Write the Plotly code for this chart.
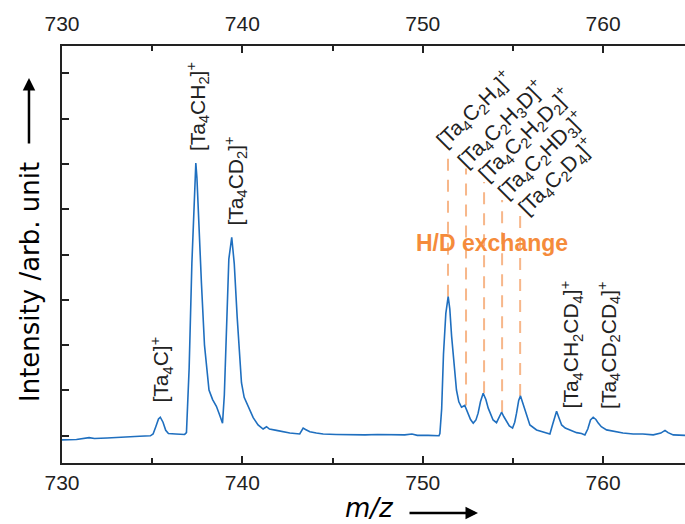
import plotly.graph_objects as go

# ---------------- data ----------------
mz = [730.0, 730.8, 731.5, 731.8, 732.5, 733.2, 733.8, 734.3, 734.9,
      735.05, 735.2, 735.35, 735.45, 735.6, 735.75, 735.9, 736.3, 736.8, 736.9,
      737.05, 737.2, 737.35, 737.42, 737.48, 737.58, 737.73, 737.9, 738.05, 738.15,
      738.35, 738.56, 738.75, 738.9, 739.0, 739.12, 739.25, 739.41, 739.55, 739.71,
      739.85, 739.95, 740.1, 740.32, 740.6, 740.87, 741.15, 741.34, 741.5, 741.89,
      742.2, 742.63, 743.18, 743.37, 743.5, 743.74, 744.1, 744.48, 745.2, 746.0,
      746.8, 747.5, 748.2, 749.0, 749.4, 749.7, 750.3, 750.9,
      750.95, 751.05, 751.15, 751.28, 751.41, 751.5, 751.6, 751.69, 751.87, 752.0,
      752.15, 752.33, 752.52, 752.65, 752.8, 752.95, 753.07, 753.2, 753.35, 753.5,
      753.63, 753.9, 754.09, 754.25, 754.37, 754.5, 754.65, 754.8, 754.98, 755.1,
      755.2, 755.32, 755.42, 755.52, 755.66, 755.8, 755.94, 756.31, 756.6, 756.87,
      757.05, 757.2, 757.42, 757.55, 757.7, 757.9, 758.16, 758.53, 758.8, 758.99,
      759.15, 759.3, 759.45, 759.6, 759.73, 759.9, 760.19, 760.56, 761.1, 761.67,
      762.2, 762.78, 763.2, 763.43, 763.6, 763.89, 764.54]
intensity = [-0.09, -0.08, -0.04, -0.06, -0.05, -0.03, -0.02, -0.01, 0.0,
             0.04, 0.2, 0.37, 0.41, 0.3, 0.12, 0.05, 0.04, 0.03, 0.07,
             1.5, 3.8, 5.6, 6.02, 5.7, 4.7, 3.37, 2.0, 1.35, 1.01,
             0.8, 0.65, 0.45, 0.28, 0.9, 2.63, 3.9, 4.38, 3.8, 2.63,
             1.6, 1.17, 0.85, 0.65, 0.4, 0.24, 0.15, 0.2, 0.15, 0.12,
             0.09, 0.06, 0.04, 0.17, 0.14, 0.09, 0.06, 0.04, 0.03, 0.02,
             0.02, 0.03, 0.02, 0.02, 0.04, 0.01, 0.01, 0.0,
             0.05, 0.6, 1.8, 2.7, 3.07, 2.8, 2.2, 1.75, 1.01, 0.75,
             0.63, 0.67, 0.5, 0.36, 0.28, 0.35, 0.5, 0.75, 0.94, 0.8,
             0.61, 0.35, 0.29, 0.42, 0.52, 0.42, 0.31, 0.22, 0.17, 0.3,
             0.5, 0.78, 0.88, 0.76, 0.57, 0.38, 0.24, 0.13, 0.1, 0.07,
             0.04, 0.25, 0.54, 0.4, 0.24, 0.17, 0.13, 0.07, 0.05, 0.02,
             0.15, 0.35, 0.41, 0.36, 0.28, 0.2, 0.13, 0.1, 0.06, 0.04,
             0.04, 0.02, 0.06, 0.12, 0.07, 0.02, 0.01]

x_ticks = [730, 740, 750, 760]
y_ticks = [0, 1, 2, 3, 4, 5, 6, 7, 8]

# H/D exchange peaks (m/z and peak height) and their labels
hd_mz = [751.4, 752.4, 753.4, 754.4, 755.4]
hd_peak = [3.07, 0.67, 0.94, 0.52, 0.88]
hd_labels = ["[Ta<sub>4</sub>C<sub>2</sub>H<sub>4</sub>]<sup>+</sup>",
             "[Ta<sub>4</sub>C<sub>2</sub>H<sub>3</sub>D]<sup>+</sup>",
             "[Ta<sub>4</sub>C<sub>2</sub>H<sub>2</sub>D<sub>2</sub>]<sup>+</sup>",
             "[Ta<sub>4</sub>C<sub>2</sub>HD<sub>3</sub>]<sup>+</sup>",
             "[Ta<sub>4</sub>C<sub>2</sub>D<sub>4</sub>]<sup>+</sup>"]

# vertical peak labels
v_labels = ["[Ta<sub>4</sub>C]<sup>+</sup>",
            "[Ta<sub>4</sub>CH<sub>2</sub>]<sup>+</sup>",
            "[Ta<sub>4</sub>CD<sub>2</sub>]<sup>+</sup>",
            "[Ta<sub>4</sub>CH<sub>2</sub>CD<sub>4</sub>]<sup>+</sup>",
            "[Ta<sub>4</sub>CD<sub>2</sub>CD<sub>4</sub>]<sup>+</sup>"]

# ---------------- figure ----------------
X_RANGE = [730, 764.54]
Y_RANGE = [-0.6, 8.6]
BLUE = "#1f6fbf"
ORANGE = "#f58b3b"
DASH_ORANGE = "#f7b78a"
AX = "#222222"
LABEL_FONT = dict(family="Liberation Sans, Arial", size=21, color=AX)

fig = go.Figure()
fig.add_trace(go.Scatter(x=mz, y=intensity, mode="lines",
                         line=dict(color=BLUE, width=1.6), showlegend=False,
                         hoverinfo="skip"))
# invisible trace on top axis
fig.add_trace(go.Scatter(x=[X_RANGE[0]], y=[0], xaxis="x2", mode="markers",
                         marker=dict(opacity=0), showlegend=False, hoverinfo="skip"))

# dashed H/D lines
line_tops = [6.15, 5.90, 5.60, 5.20, 4.87]
for xm, yp, yt in zip(hd_mz, hd_peak, line_tops):
    fig.add_shape(type="line", xref="x", yref="y", x0=xm, x1=xm, y0=yp, y1=yt,
                  line=dict(color=DASH_ORANGE, width=2, dash="12px,9px"), layer="below")

annotations = []
# vertical labels: (x, bottom y)
v_pos = [(735.52, 0.68), (737.55, 6.23), (739.63, 4.60), (758.25, 0.55), (760.33, 0.55)]
for txt, (xx, yy) in zip(v_labels, v_pos):
    annotations.append(dict(x=xx, y=yy, xref="x", yref="y", text=txt, showarrow=False,
                            textangle=-90, xanchor="center", yanchor="bottom",
                            font=LABEL_FONT))
# diagonal labels: bbox left-bottom
d_pos = [(750.23, 6.15), (751.40, 5.71), (752.56, 5.42), (753.62, 5.03), (754.79, 4.67)]
for txt, (xx, yy) in zip(hd_labels, d_pos):
    annotations.append(dict(x=xx, y=yy, xref="x", yref="y", text=txt, showarrow=False,
                            textangle=-45, xanchor="left", yanchor="bottom",
                            font=LABEL_FONT))
# H/D exchange
annotations.append(dict(x=753.83, y=4.25, xref="x", yref="y", text="<b>H/D exchange</b>",
                        showarrow=False, xanchor="center", yanchor="middle",
                        font=dict(family="Liberation Sans, Arial", size=23, color=ORANGE)))
# axis titles
annotations.append(dict(x=-0.0514, y=0.434, xref="paper", yref="paper",
                        text="Intensity /arb. unit", showarrow=False, textangle=-90,
                        xanchor="center", yanchor="middle",
                        font=dict(family="DejaVu Sans", size=26, color="black")))
annotations.append(dict(x=-0.053, y=0.923, xref="paper", yref="paper", text="",
                        showarrow=True, ax=0, ay=67, arrowhead=2, arrowsize=1,
                        arrowwidth=2.5, arrowcolor="black"))
annotations.append(dict(x=0.494, y=-0.107, xref="paper", yref="paper",
                        text="<i>m/z</i>", showarrow=False,
                        xanchor="center", yanchor="middle",
                        font=dict(family="DejaVu Sans", size=26, color="black")))
annotations.append(dict(x=(478 - 62) / 623, y=(463 - 513) / 417, xref="paper", yref="paper",
                        text="", showarrow=True, ax=-70, ay=0, arrowhead=2, arrowsize=1,
                        arrowwidth=2.5, arrowcolor="black"))

xaxis_common = dict(range=X_RANGE, tickmode="array", tickvals=x_ticks,
                    ticktext=[str(v) for v in x_ticks], ticks="inside", ticklen=7,
                    tickwidth=1.5, tickcolor=AX, showline=True, linecolor=AX,
                    linewidth=1.5, showgrid=False, zeroline=False, automargin=False,
                    tickfont=dict(family="Liberation Sans, Arial", size=21, color=AX),
                    minor=dict(dtick=5, tick0=730, ticks="inside", ticklen=5,
                               tickwidth=1.5, tickcolor=AX, showgrid=False))

fig.update_layout(
    width=685, height=524,
    margin=dict(l=62, r=0, t=46, b=61, autoexpand=False),
    paper_bgcolor="white", plot_bgcolor="white",
    xaxis=dict(**xaxis_common, side="bottom"),
    xaxis2=dict(**xaxis_common, side="top", overlaying="x", matches="x",
                ticklabelstandoff=5),
    yaxis=dict(range=Y_RANGE, tickmode="array", tickvals=y_ticks, showticklabels=False,
               ticks="inside", ticklen=7, tickwidth=1.5, tickcolor=AX, showline=True,
               linecolor=AX, linewidth=1.5, showgrid=False, zeroline=False,
               automargin=False),
    annotations=annotations,
    showlegend=False,
)

fig.write_html("out.html", config={"displayModeBar": False},
               post_script="document.body.style.margin='0';document.body.style.overflow='hidden';")
